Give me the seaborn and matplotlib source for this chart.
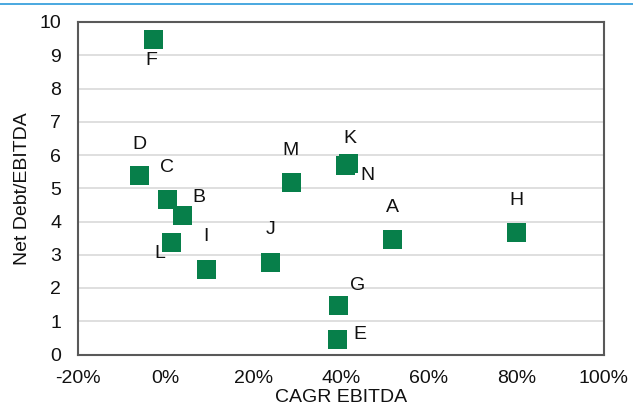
import pandas as pd
import seaborn as sns
import matplotlib.pyplot as plt
from matplotlib.ticker import PercentFormatter, MultipleLocator
from matplotlib.lines import Line2D

# Companies and their values
names = ['A', 'B', 'C', 'D', 'E', 'F', 'G', 'H', 'I', 'J', 'K', 'L', 'M', 'N']
cagr_ebitda = [0.517, 0.038, 0.002, -0.060, 0.392, -0.030, 0.394, 0.800,
               0.093, 0.239, 0.415, 0.013, 0.285, 0.410]
net_debt_ebitda = [3.46, 4.19, 4.67, 5.39, 0.46, 9.48, 1.48, 3.67,
                   2.56, 2.78, 5.77, 3.37, 5.18, 5.69]

# label placement around each marker (pixels, x right / y up)
label_offsets = {
    'A': (0, 32), 'B': (16.5, 18), 'C': (0, 32), 'D': (0, 31),
    'E': (22, 4.6), 'F': (-1, -21.4), 'G': (19, 20), 'H': (0, 32),
    'I': (0, 32.8), 'J': (0, 32.7), 'K': (2.5, 24), 'L': (-12, -11),
    'M': (0, 31.6), 'N': (22, -10),
}

df = pd.DataFrame({'name': names, 'CAGR EBITDA': cagr_ebitda,
                   'Net Debt/EBITDA': net_debt_ebitda})

sns.set_style('white')
plt.rcParams['font.family'] = ['Liberation Sans', 'DejaVu Sans']
plt.rcParams['axes.unicode_minus'] = False

green = '#077F4A'
spine_col = '#595959'
txt_col = '#111111'
px = 0.72  # points per pixel at dpi 100

fig = plt.figure(figsize=(6.33, 4.08), dpi=100)
ax = fig.add_axes([78 / 633, 1 - 354.5 / 408, 526 / 633, 332.5 / 408])

sns.scatterplot(data=df, x='CAGR EBITDA', y='Net Debt/EBITDA', ax=ax,
                marker='s', s=(19 * px) ** 2, color=green, linewidth=0,
                zorder=3)

for n, x, y in zip(names, cagr_ebitda, net_debt_ebitda):
    dx, dy = label_offsets[n]
    ax.annotate(n, (x, y), xytext=(dx * px, dy * px), textcoords='offset points',
                ha='center', va='center', fontsize=14, color=txt_col)

ax.set_xlim(-0.2, 1.0)
ax.set_ylim(0, 10)
ax.xaxis.set_major_locator(MultipleLocator(0.2))
ax.yaxis.set_major_locator(MultipleLocator(1))
ax.xaxis.set_major_formatter(PercentFormatter(1.0, decimals=0))

ax.grid(axis='y', color='#D9D9D9', linewidth=1.2)
ax.set_axisbelow(True)
for sp in ax.spines.values():
    sp.set_color(spine_col)
    sp.set_linewidth(1.5)
    sp.set_visible(True)

ax.tick_params(axis='both', direction='in', length=4.3, width=1.2,
               color=spine_col, labelsize=14, labelcolor=txt_col)
ax.tick_params(axis='y', pad=12)
ax.tick_params(axis='x', pad=11.5)
ax.set_xlabel('CAGR EBITDA', fontsize=14, color=txt_col)
ax.set_ylabel('Net Debt/EBITDA', fontsize=14, color=txt_col)
ax.xaxis.set_label_coords(0.5, -0.104)
ax.yaxis.set_label_coords(-0.089, 0.5)

# blue rule across the top of the figure
fig.add_artist(Line2D([0, 1], [1 - 4 / 408, 1 - 4 / 408], color='#4AA8E0',
                      linewidth=1.4, transform=fig.transFigure))

fig.savefig('out.png', dpi=100)
